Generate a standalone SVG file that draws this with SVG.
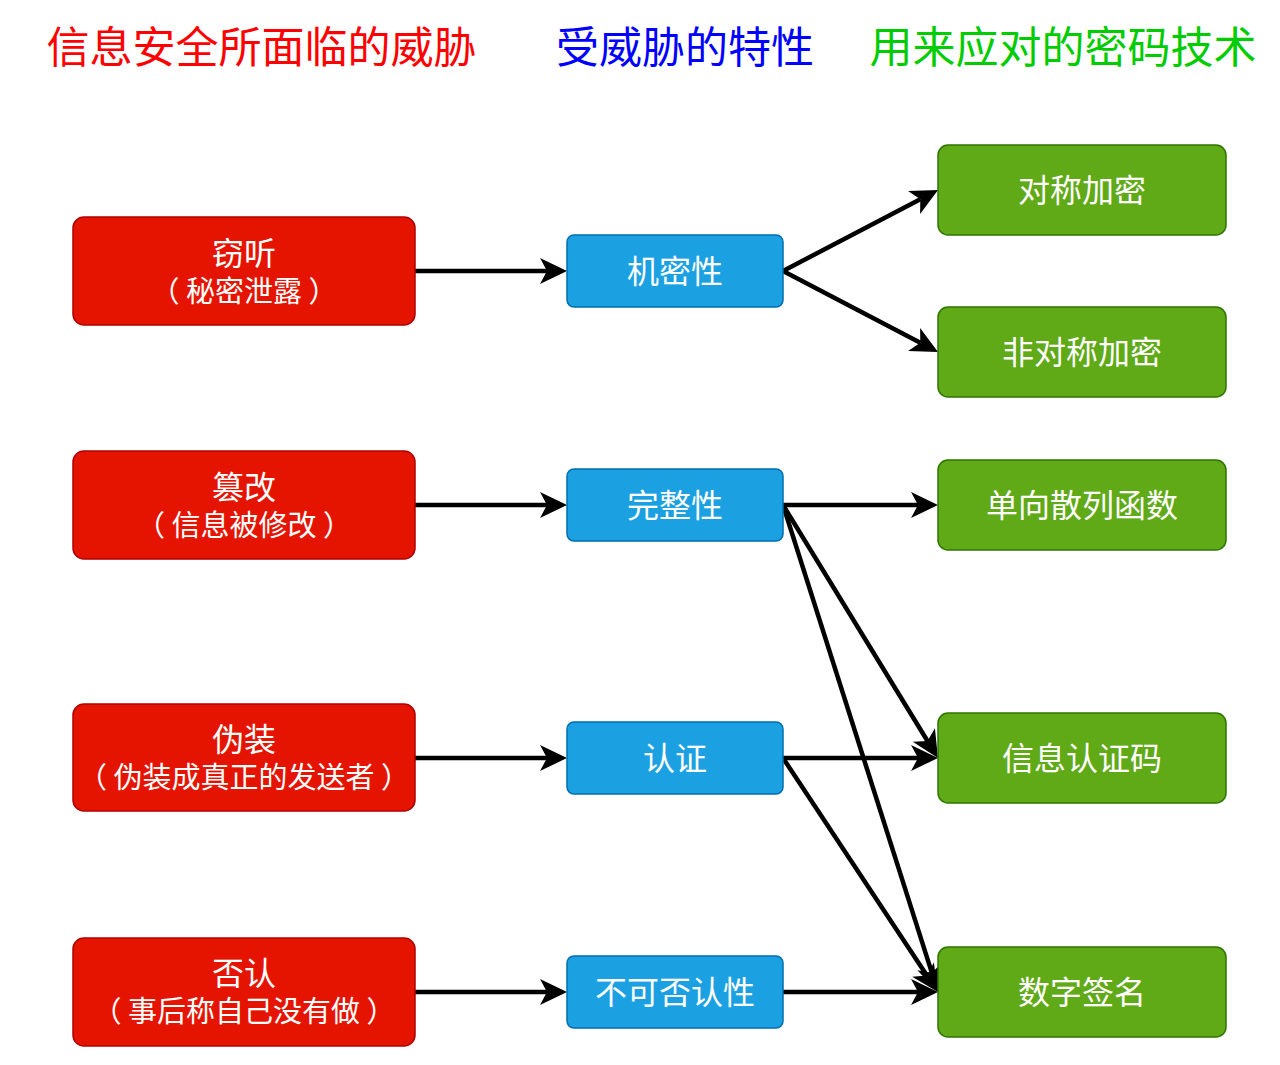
<svg xmlns="http://www.w3.org/2000/svg" width="1280" height="1065" viewBox="0 0 1280 1065">
<defs>
<style>
text{font-family:"Noto Sans CJK SC","Noto Sans",sans-serif;text-anchor:middle;dominant-baseline:central}
.hd{font-size:43px}
.red rect{fill:#e51400;stroke:#b20000;stroke-width:1.5}
.blue rect{fill:#1ba1e2;stroke:#006eaf;stroke-width:1.5}
.green rect{fill:#60a917;stroke:#2d7600;stroke-width:1.5}
.node text{fill:#ffffff;font-size:32px}
.node text.sub{font-size:29px}
.edges line{stroke:#000;stroke-width:4.5;marker-end:url(#arr)}
</style>
<marker id="arr" markerUnits="userSpaceOnUse" viewBox="0 -14 28 28" markerWidth="28" markerHeight="28" refX="7" refY="0" orient="auto" overflow="visible">
<path d="M0,-13 L27,0 L0,13 L7,0 Z" fill="#000"/>
</marker>
</defs>
<rect width="1280" height="1065" fill="#ffffff"/>
<g id="headers">
<text class="hd" x="261.5" y="44" fill="#ff0000">信息安全所面临的威胁</text>
<text class="hd" x="685" y="44" fill="#0000ff">受威胁的特性</text>
<text class="hd" x="1063" y="44" fill="#00cc00">用来应对的密码技术</text>
</g>
<g id="edges" class="edges">
<line x1="415" y1="271" x2="547" y2="271"/>
<line x1="415" y1="505" x2="547" y2="505"/>
<line x1="415" y1="758" x2="547" y2="758"/>
<line x1="415" y1="992" x2="547" y2="992"/>
<line x1="783" y1="271" x2="920.3" y2="199.3"/>
<line x1="783" y1="271" x2="920.3" y2="342.7"/>
<line x1="783" y1="505" x2="918" y2="505"/>
<line x1="783" y1="505" x2="927.5" y2="741"/>
<line x1="783" y1="505" x2="931.9" y2="972.9"/>
<line x1="783" y1="758" x2="918" y2="758"/>
<line x1="783" y1="758" x2="926.9" y2="975.4"/>
<line x1="783" y1="992" x2="918" y2="992"/>
</g>
<g id="n-eavesdrop" class="node red"><rect x="73" y="217" width="342" height="108" rx="11"/><text x="244" y="251">窃听</text><text class="sub" x="244" y="289">（ 秘密泄露 ）</text></g>
<g id="n-tamper" class="node red"><rect x="73" y="451" width="342" height="108" rx="11"/><text x="244" y="485">篡改</text><text class="sub" x="244" y="523">（ 信息被修改 ）</text></g>
<g id="n-spoof" class="node red"><rect x="73" y="704" width="342" height="107" rx="11"/><text x="244" y="737">伪装</text><text class="sub" x="244" y="775">（ 伪装成真正的发送者 ）</text></g>
<g id="n-deny" class="node red"><rect x="73" y="938" width="342" height="108" rx="11"/><text x="244" y="971">否认</text><text class="sub" x="244" y="1009">（ 事后称自己没有做 ）</text></g>
<g id="n-conf" class="node blue"><rect x="567" y="235" width="216" height="72" rx="7"/><text x="675" y="269">机密性</text></g>
<g id="n-integ" class="node blue"><rect x="567" y="469" width="216" height="72" rx="7"/><text x="675" y="503">完整性</text></g>
<g id="n-auth" class="node blue"><rect x="567" y="722" width="216" height="72" rx="7"/><text x="675" y="756">认证</text></g>
<g id="n-nonrep" class="node blue"><rect x="567" y="956" width="216" height="72" rx="7"/><text x="675" y="990">不可否认性</text></g>
<g id="n-sym" class="node green"><rect x="938" y="145" width="288" height="90" rx="10"/><text x="1082" y="188">对称加密</text></g>
<g id="n-asym" class="node green"><rect x="938" y="307" width="288" height="90" rx="10"/><text x="1082" y="350">非对称加密</text></g>
<g id="n-hash" class="node green"><rect x="938" y="460" width="288" height="90" rx="10"/><text x="1082" y="503">单向散列函数</text></g>
<g id="n-mac" class="node green"><rect x="938" y="713" width="288" height="90" rx="10"/><text x="1082" y="756">信息认证码</text></g>
<g id="n-sig" class="node green"><rect x="938" y="947" width="288" height="90" rx="10"/><text x="1082" y="990">数字签名</text></g>
</svg>
